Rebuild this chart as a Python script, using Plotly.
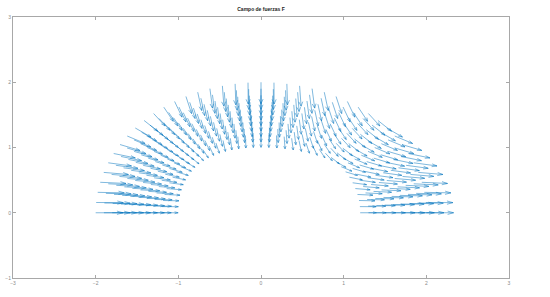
import numpy as np
import plotly.graph_objects as go

# ---- data (grid of the half annulus and field definition) ----
r_values = [1.2, 1.3, 1.4, 1.5, 1.6, 1.7, 1.8, 1.9, 2.0]
theta_steps = 40          # theta = 0 : pi/40 : pi
x_ticks = [-3, -2, -1, 0, 1, 2, 3]
y_ticks = [-1, 0, 1, 2, 3]
title_text = "Campo de fuerzas F"
max_arrow = 0.33          # length of the longest arrow (data units)


def field(x, y):
    r = np.sqrt(x ** 2 + y ** 2)
    return x ** 2 / r, -(y ** 2) / r


theta = np.linspace(0, np.pi, theta_steps + 1)
R, T = np.meshgrid(np.array(r_values), theta)
X = R * np.cos(T)
Y = R * np.sin(T)
U, V = field(X, Y)

s = max_arrow / np.sqrt(U ** 2 + V ** 2).max()
U = U * s
V = V * s

alpha, beta = 0.22, 0.35
xs, ys = [], []
for x0, y0, u, v in zip(X.ravel(), Y.ravel(), U.ravel(), V.ravel()):
    xs += [x0, x0 + u, None]
    ys += [y0, y0 + v, None]
    xs += [x0 + u - alpha * (u + beta * v), x0 + u, x0 + u - alpha * (u - beta * v), None]
    ys += [y0 + v - alpha * (v - beta * u), y0 + v, y0 + v - alpha * (v + beta * u), None]

fig = go.Figure(go.Scatter(x=xs, y=ys, mode="lines",
                           line=dict(color="#0072BD", width=0.5),
                           hoverinfo="skip", showlegend=False))

axis_common = dict(showgrid=False, zeroline=False, showline=True, mirror="ticks",
                   linecolor="#a8a8a8", linewidth=1, ticks="inside", ticklen=3,
                   tickcolor="#a8a8a8", tickwidth=1, automargin=False,
                   tickfont=dict(size=5, color="#8a8a8a", family="Liberation Sans"))
fig.update_xaxes(range=[-3, 3], tickvals=x_ticks, **axis_common)
fig.update_yaxes(range=[-1, 3], tickvals=y_ticks, **axis_common)

fig.update_layout(
    width=550, height=297,
    margin=dict(l=13, r=41, t=17, b=19),
    paper_bgcolor="white", plot_bgcolor="white",
    title=dict(text="<b>" + title_text + "</b>", x=0.5, xref="paper",
               y=1 - 9.5 / 297, yref="container", yanchor="middle", xanchor="center",
               font=dict(size=5, color="#222", family="Liberation Sans")),
)

fig.write_html("out.html")
